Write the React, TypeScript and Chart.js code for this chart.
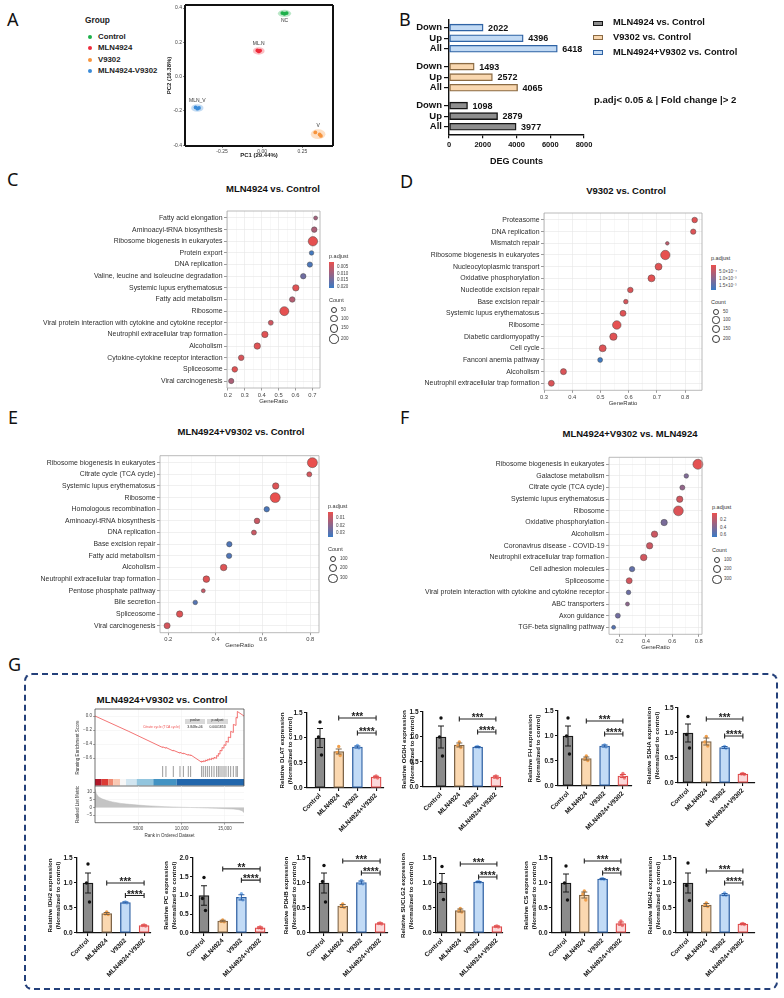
import React, { useEffect, useRef } from 'react';
import { Chart, registerables } from 'chart.js';

Chart.register(...registerables);

const SANS = '"Liberation Sans", Arial, Helvetica, sans-serif';
const HEAD = '"Noto Sans", "Liberation Sans", Arial, sans-serif';
Chart.defaults.font.family = SANS;

// ---------- A: PCA ----------
const pcaGroups = ['Control', 'MLN4924', 'V9302', 'MLN4924-V9302'];
const pcaTags = ['NC', 'ML.N', 'V', 'MLN_V'];
const pcaPc1 = [[0.125, 0.138, 0.152], [-0.03, -0.021, -0.013], [0.33, 0.365, 0.357], [-0.414, -0.403, -0.393]];
const pcaPc2 = [[0.371, 0.367, 0.371], [0.153, 0.147, 0.152], [-0.326, -0.346, -0.338], [-0.18, -0.187, -0.183]];
const pcaColors = ['#1db04a', '#ee2b3b', '#f7943d', '#3a8bd8'];

// ---------- B: DEG counts ----------
const degRows = ['Down', 'Up', 'All'];
const degNames = ['MLN4924+V9302 vs. Control', 'V9302 vs. Control', 'MLN4924 vs. Control'];
const degCombo = [2022, 4396, 6418];
const degV9302 = [1493, 2572, 4065];
const degMln = [1098, 2879, 3977];

// ---------- C ----------
const cTerms = ['Fatty acid elongation', 'Aminoacyl-tRNA biosynthesis', 'Ribosome biogenesis in eukaryotes', 'Protein export', 'DNA replication', 'Valine, leucine and isoleucine degradation', 'Systemic lupus erythematosus', 'Fatty acid metabolism', 'Ribosome', 'Viral protein interaction with cytokine and cytokine receptor', 'Neutrophil extracellular trap formation', 'Alcoholism', 'Cytokine-cytokine receptor interaction', 'Spliceosome', 'Viral carcinogenesis'];
const cRatio = [0.719, 0.711, 0.703, 0.695, 0.685, 0.646, 0.602, 0.581, 0.534, 0.454, 0.419, 0.374, 0.279, 0.241, 0.22];
const cCount = [20, 34, 198, 22, 30, 33, 56, 35, 175, 26, 56, 56, 36, 36, 30];
const cPadj = [0.009, 0.008, 0.0015, 0.02, 0.019, 0.015, 0.002, 0.007, 0.0015, 0.004, 0.002, 0.002, 0.003, 0.002, 0.008];

// ---------- D ----------
const dTerms = ['Proteasome', 'DNA replication', 'Mismatch repair', 'Ribosome biogenesis in eukaryotes', 'Nucleocytoplasmic transport', 'Oxidative phosphorylation', 'Nucleotide excision repair', 'Base excision repair', 'Systemic lupus erythematosus', 'Ribosome', 'Diabetic cardiomyopathy', 'Cell cycle', 'Fanconi anemia pathway', 'Alcoholism', 'Neutrophil extracellular trap formation'];
const dRatio = [0.834, 0.829, 0.737, 0.73, 0.706, 0.681, 0.606, 0.59, 0.58, 0.558, 0.546, 0.508, 0.499, 0.369, 0.326];
const dCount = [46, 40, 18, 250, 98, 100, 45, 25, 58, 190, 118, 98, 31, 60, 58];
const dPadj = [0.0001, 0.00012, 0.00045, 0.00003, 0.00008, 0.00006, 0.00015, 0.0002, 0.0001, 0.00004, 0.00009, 0.00012, 0.0017, 0.00015, 0.00015];

// ---------- E ----------
const eTerms = ['Ribosome biogenesis in eukaryotes', 'Citrate cycle (TCA cycle)', 'Systemic lupus erythematosus', 'Ribosome', 'Homologous recombination', 'Aminoacyl-tRNA biosynthesis', 'DNA replication', 'Base excision repair', 'Fatty acid metabolism', 'Alcoholism', 'Neutrophil extracellular trap formation', 'Pentose phosphate pathway', 'Bile secretion', 'Spliceosome', 'Viral carcinogenesis'];
const eRatio = [0.809, 0.796, 0.654, 0.652, 0.616, 0.575, 0.562, 0.458, 0.457, 0.434, 0.361, 0.348, 0.314, 0.248, 0.195];
const eCount = [360, 49, 91, 355, 57, 63, 49, 57, 57, 100, 100, 40, 43, 91, 80];
const ePadj = [0.002, 0.006, 0.004, 0.002, 0.032, 0.008, 0.008, 0.031, 0.031, 0.004, 0.004, 0.009, 0.03, 0.004, 0.006];

// ---------- F ----------
const fTerms = ['Ribosome biogenesis in eukaryotes', 'Galactose metabolism', 'Citrate cycle (TCA cycle)', 'Systemic lupus erythematosus', 'Ribosome', 'Oxidative phosphorylation', 'Alcoholism', 'Coronavirus disease - COVID-19', 'Neutrophil extracellular trap formation', 'Cell adhesion molecules', 'Spliceosome', 'Viral protein interaction with cytokine and cytokine receptor', 'ABC transporters', 'Axon guidance', 'TGF-beta signaling pathway'];
const fRatio = [0.794, 0.706, 0.676, 0.656, 0.646, 0.538, 0.465, 0.428, 0.383, 0.295, 0.273, 0.268, 0.26, 0.187, 0.155];
const fCount = [361, 43, 49, 91, 340, 91, 91, 91, 100, 57, 76, 43, 40, 49, 40];
const fPadj = [0.03, 0.4, 0.33, 0.1, 0.06, 0.42, 0.12, 0.12, 0.1, 0.5, 0.1, 0.47, 0.35, 0.45, 0.55];

// ---------- G: GSEA ----------
const esRank = [0, 3900, 7810, 7810, 8190, 8190, 9040, 9040, 9810, 9810, 10200, 10200, 10770, 10770, 11040, 11040, 12310, 12310, 12500, 12500, 12740, 12740, 12970, 12970, 13200, 13200, 13470, 13470, 13740, 13740, 14040, 14040, 14240, 14240, 14430, 14430, 14660, 14660, 14890, 14890, 15120, 15120, 15390, 15390, 15660, 15660, 15970, 15970, 16280, 16280, 16430, 16430, 17200];
const esScore = [0, -0.22, -0.45, -0.44, -0.46, -0.45, -0.5, -0.49, -0.53, -0.52, -0.54, -0.53, -0.56, -0.55, -0.565, -0.555, -0.66, -0.645, -0.655, -0.64, -0.65, -0.63, -0.64, -0.62, -0.63, -0.61, -0.625, -0.6, -0.615, -0.59, -0.605, -0.565, -0.575, -0.535, -0.545, -0.49, -0.5, -0.45, -0.46, -0.41, -0.42, -0.36, -0.375, -0.3, -0.31, -0.22, -0.235, -0.12, -0.135, -0.02, -0.03, 0.065, 0];
const hitRanks = [7810, 8190, 9040, 9810, 10200, 10770, 11040, 12310, 12500, 12740, 12970, 13200, 13470, 13740, 14040, 14240, 14430, 14660, 14890, 15120, 15390, 15660, 15970, 16280, 16430];
const bandEdges = [0, 770, 1540, 2110, 2890, 3580, 4810, 6730, 9430, 17200];
const bandColors = ['#b2182b', '#dc3b35', '#ef8a72', '#f9c9b4', '#f7f7f7', '#d1e5f0', '#92c5de', '#4393c3', '#2166ac'];
const metricRank = [0, 150, 400, 800, 1300, 2000, 3000, 4000, 5000, 6000, 7000, 8000, 9000, 10000, 11000, 12000, 13000, 14000, 15000, 16000, 16600, 17000, 17200];
const metricValue = [12, 9, 7, 5.6, 4.6, 3.6, 2.6, 2.0, 1.5, 1.1, 0.8, 0.5, 0.3, 0.1, -0.05, -0.2, -0.4, -0.6, -0.8, -1.1, -1.5, -2.2, -3.5];

// ---------- G: qPCR ----------
const exprGroups = ['Control', 'MLN4924', 'V9302', 'MLN4924+V9302'];
const dlatMean = [1.0, 0.73, 0.82, 0.22];
const dlatSem = [0.19, 0.05, 0.02, 0.015];
const dlatPts = [[1.32, 1.02, 0.66], [0.83, 0.71, 0.65], [0.85, 0.82, 0.8], [0.24, 0.22, 0.2]];
const ogdhMean = [1.0, 0.84, 0.8, 0.2];
const ogdhSem = [0.22, 0.04, 0.01, 0.02];
const ogdhPts = [[1.38, 1.0, 0.62], [0.9, 0.83, 0.79], [0.81, 0.8, 0.79], [0.22, 0.2, 0.18]];
const fhMean = [1.0, 0.55, 0.8, 0.2];
const fhSem = [0.2, 0.03, 0.02, 0.03];
const fhPts = [[1.36, 1.0, 0.64], [0.6, 0.54, 0.51], [0.82, 0.8, 0.78], [0.25, 0.19, 0.16]];
const sdhaMean = [1.0, 0.83, 0.71, 0.18];
const sdhaSem = [0.18, 0.07, 0.02, 0.01];
const sdhaPts = [[1.33, 0.97, 0.7], [0.93, 0.82, 0.74], [0.73, 0.71, 0.69], [0.19, 0.18, 0.17]];
const idh2Mean = [1.0, 0.39, 0.61, 0.15];
const idh2Sem = [0.2, 0.02, 0.01, 0.01];
const idh2Pts = [[1.38, 1.0, 0.62], [0.42, 0.38, 0.37], [0.62, 0.61, 0.6], [0.16, 0.15, 0.14]];
const pcMean = [1.0, 0.32, 0.95, 0.14];
const pcSem = [0.26, 0.02, 0.07, 0.02];
const pcPts = [[1.48, 0.92, 0.6], [0.35, 0.31, 0.3], [1.05, 0.92, 0.88], [0.16, 0.14, 0.12]];
const pdhbMean = [1.0, 0.54, 1.01, 0.19];
const pdhbSem = [0.2, 0.03, 0.03, 0.01];
const pdhbPts = [[1.35, 1.03, 0.62], [0.58, 0.53, 0.51], [1.05, 1.0, 0.98], [0.2, 0.19, 0.18]];
const suclg2Mean = [1.0, 0.45, 1.02, 0.13];
const suclg2Sem = [0.19, 0.03, 0.01, 0.01];
const suclg2Pts = [[1.33, 1.0, 0.67], [0.49, 0.44, 0.42], [1.03, 1.02, 1.01], [0.14, 0.13, 0.12]];
const csMean = [1.0, 0.76, 1.08, 0.19];
const csSem = [0.18, 0.06, 0.01, 0.03];
const csPts = [[1.34, 1.0, 0.66], [0.84, 0.78, 0.66], [1.09, 1.08, 1.07], [0.24, 0.18, 0.15]];
const mdh2Mean = [1.0, 0.56, 0.77, 0.18];
const mdh2Sem = [0.2, 0.03, 0.02, 0.01];
const mdh2Pts = [[1.4, 0.95, 0.65], [0.6, 0.55, 0.53], [0.8, 0.76, 0.75], [0.19, 0.18, 0.17]];
const sigStd = ['***', '****'];
const sigPc = ['**', '****'];

// ---------- helpers ----------
type Box = { l: number; t: number; w: number; h: number };
type Area = { x: number; y: number; w: number; h: number };

function fitTo(box: Box, area: Area) {
  return {
    padding: { left: 0, top: area.y - box.t, right: box.l + box.w - (area.x + area.w), bottom: 0 },
    yFit: (s: any) => { s.width = area.x - box.l; },
    xFit: (s: any) => { s.height = box.t + box.h - (area.y + area.h); },
  };
}

const boxFrame = (color: string, width: number, sides = 'lrtb') => ({
  id: 'boxFrame',
  afterDraw(chart: any) {
    const { ctx, chartArea: a } = chart;
    ctx.save();
    ctx.strokeStyle = color;
    ctx.lineWidth = width;
    ctx.beginPath();
    if (sides.includes('t')) { ctx.moveTo(a.left, a.top); ctx.lineTo(a.right, a.top); }
    if (sides.includes('r')) { ctx.moveTo(a.right, a.top); ctx.lineTo(a.right, a.bottom); }
    if (sides.includes('b')) { ctx.moveTo(a.left, a.bottom); ctx.lineTo(a.right, a.bottom); }
    if (sides.includes('l')) { ctx.moveTo(a.left, a.top); ctx.lineTo(a.left, a.bottom); }
    ctx.stroke();
    ctx.restore();
  },
});

const RED = [233, 80, 78];
const BLUE = [58, 122, 196];
function mix(t: number) {
  const u = Math.max(0, Math.min(1, t));
  const c = RED.map((r, i) => Math.round(r + (BLUE[i] - r) * u));
  return `rgb(${c[0]},${c[1]},${c[2]})`;
}

function sizeOf(count: number[], rMin: number, rMax: number) {
  const lo = Math.min(...count);
  const hi = Math.max(...count);
  return (c: number) => rMin + (rMax - rMin) * Math.sqrt(Math.max(0, c - lo) / (hi - lo));
}

const noUi = { legend: { display: false }, tooltip: { enabled: false } };

function ChartBox({ box, make }: { box: Box; make: () => any }) {
  const ref = useRef<HTMLCanvasElement | null>(null);
  useEffect(() => {
    const chart = new Chart(ref.current as HTMLCanvasElement, make());
    return () => chart.destroy();
  }, []);
  return (
    <div style={{ position: 'absolute', left: box.l, top: box.t, width: box.w, height: box.h }}>
      <canvas ref={ref} width={box.w} height={box.h} />
    </div>
  );
}

function Txt(p: { x: number; y: number; s: number; b?: boolean; a?: 'l' | 'c' | 'r'; c?: string; rot?: number; f?: string; children: React.ReactNode }) {
  const tx = p.a === 'c' ? '-50%' : p.a === 'r' ? '-100%' : '0';
  return (
    <div style={{ position: 'absolute', left: p.x, top: p.y, transform: `translate(${tx}, -50%)${p.rot ? ` rotate(${p.rot}deg)` : ''}`, fontSize: p.s, fontWeight: p.b ? 700 : 400, color: p.c || '#111', fontFamily: p.f || SANS, whiteSpace: 'nowrap', lineHeight: 1 }}>
      {p.children}
    </div>
  );
}

// ---------- A ----------
const pcaHalo = {
  id: 'pcaHalo',
  beforeDatasetsDraw(chart: any) {
    const { ctx, scales: { x, y } } = chart;
    ctx.save();
    pcaPc1.forEach((xs, i) => {
      const px = xs.map((v) => x.getPixelForValue(v));
      const py = pcaPc2[i].map((v) => y.getPixelForValue(v));
      const cx = (Math.min(...px) + Math.max(...px)) / 2;
      const cy = (Math.min(...py) + Math.max(...py)) / 2;
      const rx = (Math.max(...px) - Math.min(...px)) / 2 + 4.5;
      const ry = (Math.max(...py) - Math.min(...py)) / 2 + 3.2;
      ctx.globalAlpha = 0.3;
      ctx.fillStyle = pcaColors[i];
      ctx.beginPath();
      ctx.ellipse(cx, cy, rx, ry, 0, 0, Math.PI * 2);
      ctx.fill();
    });
    ctx.restore();
  },
};

const pcaTagPlugin = {
  id: 'pcaTags',
  afterDatasetsDraw(chart: any) {
    const { ctx, scales: { x, y } } = chart;
    ctx.save();
    ctx.font = `5px ${SANS}`;
    ctx.fillStyle = '#333';
    ctx.textAlign = 'center';
    ctx.textBaseline = 'middle';
    pcaTags.forEach((t, i) => {
      const px = pcaPc1[i].map((v) => x.getPixelForValue(v));
      const py = pcaPc2[i].map((v) => y.getPixelForValue(v));
      const cx = (Math.min(...px) + Math.max(...px)) / 2;
      const ty = i === 0 ? Math.max(...py) + 6.5 : Math.min(...py) - 6.5;
      ctx.fillText(t, cx, ty);
    });
    ctx.restore();
  },
};

function pcaSpec() {
  const box = { l: 165, t: 0, w: 175, h: 160 };
  const area = { x: 185, y: 5, w: 148, h: 141 };
  const f = fitTo(box, area);
  const tickFont = { size: 5, family: SANS };
  const make = () => ({
    type: 'scatter',
    data: {
      datasets: pcaGroups.map((g, i) => ({
        label: g,
        data: pcaPc1[i].map((x, j) => ({ x, y: pcaPc2[i][j] })),
        backgroundColor: pcaColors[i],
        borderWidth: 0,
        pointRadius: 1.9,
      })),
    },
    options: {
      responsive: false, animation: false, events: [],
      layout: { padding: f.padding },
      plugins: noUi,
      scales: {
        x: {
          type: 'linear', min: -0.48, max: 0.44, afterFit: f.xFit,
          afterBuildTicks: (s: any) => { s.ticks = [-0.25, 0, 0.25].map((v) => ({ value: v })); },
          grid: { drawOnChartArea: false, tickLength: 2, tickColor: '#333', lineWidth: 0.6 },
          border: { display: false },
          ticks: { autoSkip: false, maxRotation: 0, padding: 1, color: '#444', font: tickFont, callback: (v: number) => v.toFixed(2) },
          title: { display: true, text: 'PC1 (29.44%)', color: '#222', padding: 1, font: { size: 6, weight: 'bold', family: SANS } },
        },
        y: {
          type: 'linear', min: -0.405, max: 0.418, afterFit: f.yFit,
          afterBuildTicks: (s: any) => { s.ticks = [-0.4, -0.2, 0, 0.2, 0.4].map((v) => ({ value: v })); },
          grid: { drawOnChartArea: false, tickLength: 2, tickColor: '#333', lineWidth: 0.6 },
          border: { display: false },
          ticks: { autoSkip: false, padding: 1, color: '#444', font: tickFont, callback: (v: number) => v.toFixed(1) },
          title: { display: true, text: 'PC2 (16.38%)', color: '#222', padding: 1, font: { size: 6, weight: 'bold', family: SANS } },
        },
      },
    },
    plugins: [pcaHalo, pcaTagPlugin, boxFrame('#111', 2)],
  });
  return { box, make };
}

// ---------- B ----------
const degFills = ['#c2daf4', '#f9d7af', '#8e8e8e'];
const degEdges = ['#2f63a5', '#8b6b44', '#151515'];

const degValueLabels = {
  id: 'degValues',
  afterDatasetsDraw(chart: any) {
    const { ctx } = chart;
    ctx.save();
    ctx.font = `bold 9px ${SANS}`;
    ctx.fillStyle = '#111';
    ctx.textBaseline = 'middle';
    chart.data.datasets.forEach((ds: any, di: number) => {
      chart.getDatasetMeta(di).data.forEach((el: any, j: number) => {
        ctx.fillText(String(ds.data[j].x), el.x + 5, el.y + 0.5);
      });
    });
    ctx.restore();
  },
};

function degSpec() {
  const box = { l: 400, t: 12, w: 200, h: 155 };
  const area = { x: 449, y: 20, w: 135, h: 114.3 };
  const f = fitTo(box, area);
  const starts = [0, 3.7, 7.4];
  const series = [degCombo, degV9302, degMln];
  const positions = starts.flatMap((s) => degRows.map((_, j) => s + j));
  const rowLabels = starts.flatMap(() => degRows);
  const make = () => ({
    type: 'bar',
    data: {
      datasets: series.map((vals, g) => ({
        label: degNames[g],
        data: vals.map((v, j) => ({ x: v, y: starts[g] + j })),
        backgroundColor: degFills[g],
        borderColor: degEdges[g],
        borderWidth: 1.4,
        barThickness: 7,
        borderSkipped: false,
        grouped: false,
      })),
    },
    options: {
      indexAxis: 'y', responsive: false, animation: false, events: [],
      layout: { padding: f.padding },
      plugins: noUi,
      scales: {
        x: {
          type: 'linear', min: 0, max: 8000, afterFit: f.xFit,
          afterBuildTicks: (s: any) => { s.ticks = [0, 2000, 4000, 6000, 8000].map((v) => ({ value: v })); },
          grid: { drawOnChartArea: false, tickLength: 4, tickColor: '#111', lineWidth: 1.2 },
          border: { color: '#111', width: 1.4 },
          ticks: { autoSkip: false, maxRotation: 0, padding: 2, color: '#111', font: { size: 7.5, weight: 'bold', family: SANS }, callback: (v: number) => String(v) },
          title: { display: true, text: 'DEG Counts', color: '#111', padding: 0, font: { size: 9, weight: 'bold', family: SANS } },
        },
        y: {
          type: 'linear', reverse: true, offset: false, min: -0.73, max: 10.12, afterFit: f.yFit,
          afterBuildTicks: (s: any) => { s.ticks = positions.map((v) => ({ value: v })); },
          grid: { drawOnChartArea: false, offset: false, tickLength: 5, tickColor: '#111', lineWidth: 1.2 },
          border: { color: '#111', width: 1.4 },
          ticks: { autoSkip: false, padding: 2, color: '#111', font: { size: 9.5, weight: 'bold', family: SANS }, callback: (_v: number, i: number) => rowLabels[i] },
        },
      },
    },
    plugins: [degValueLabels],
  });
  return { box, make };
}

// ---------- C–F dot plots ----------
type DotSpec = {
  terms: string[]; ratio: number[]; count: number[]; padj: number[];
  xMin: number; xMax: number; major: number[]; minor: number[]; digits: number;
  pLo: number; pHi: number; rMin: number; rMax: number; box: Box; area: Area;
};

function dotSpec(s: DotSpec) {
  const f = fitTo(s.box, s.area);
  const rOf = sizeOf(s.count, s.rMin, s.rMax);
  const isMajor = (v: number) => s.major.some((m) => Math.abs(m - v) < 1e-6);
  const make = () => ({
    type: 'bubble',
    data: {
      datasets: [{
        data: s.terms.map((_, i) => ({ x: s.ratio[i], y: i, r: rOf(s.count[i]) })),
        backgroundColor: s.padj.map((p) => mix((p - s.pLo) / (s.pHi - s.pLo))),
        borderColor: '#4a4a4a',
        borderWidth: 0.5,
        clip: false,
      }],
    },
    options: {
      responsive: false, animation: false, events: [],
      layout: { padding: f.padding },
      plugins: noUi,
      scales: {
        x: {
          type: 'linear', min: s.xMin, max: s.xMax, afterFit: f.xFit,
          afterBuildTicks: (sc: any) => { sc.ticks = [...s.major, ...s.minor].sort((a, b) => a - b).map((v) => ({ value: v })); },
          grid: {
            color: (c: any) => (c.tick && isMajor(c.tick.value) ? '#e6e6e6' : '#f3f3f3'),
            tickColor: (c: any) => (c.tick && isMajor(c.tick.value) ? '#555' : 'rgba(0,0,0,0)'),
            lineWidth: 0.6, tickLength: 2.5,
          },
          border: { display: false },
          ticks: { autoSkip: false, maxRotation: 0, padding: 1, color: '#444', font: { size: 5.8, family: SANS }, callback: (v: number) => (isMajor(v) ? v.toFixed(s.digits) : '') },
          title: { display: true, text: 'GeneRatio', color: '#333', padding: 0, font: { size: 6, family: SANS } },
        },
        y: {
          type: 'linear', reverse: true, min: -0.6, max: s.terms.length - 0.4, afterFit: f.yFit,
          afterBuildTicks: (sc: any) => { sc.ticks = s.terms.map((_, i) => ({ value: i })); },
          grid: { color: '#e6e6e6', lineWidth: 0.6, tickLength: 3, tickColor: '#555' },
          border: { display: false },
          ticks: { autoSkip: false, padding: 1.5, color: '#2e2e2e', font: { size: 6.9, family: SANS }, callback: (_v: number, i: number) => s.terms[i] },
        },
      },
    },
    plugins: [boxFrame('#a8a8a8', 0.8)],
  });
  return { box: s.box, make, rOf };
}

const cDot = dotSpec({
  terms: cTerms, ratio: cRatio, count: cCount, padj: cPadj,
  xMin: 0.195, xMax: 0.745, major: [0.2, 0.3, 0.4, 0.5, 0.6, 0.7], minor: [0.25, 0.35, 0.45, 0.55, 0.65], digits: 1,
  pLo: 0.001, pHi: 0.021, rMin: 2, rMax: 4.7,
  box: { l: 20, t: 205, w: 310, h: 200 }, area: { x: 227, y: 211, w: 93, h: 177 },
});
const dDot = dotSpec({
  terms: dTerms, ratio: dRatio, count: dCount, padj: dPadj,
  xMin: 0.3, xMax: 0.86, major: [0.3, 0.4, 0.5, 0.6, 0.7, 0.8], minor: [0.35, 0.45, 0.55, 0.65, 0.75, 0.85], digits: 1,
  pLo: 0, pHi: 0.00175, rMin: 1.8, rMax: 4.7,
  box: { l: 410, t: 207, w: 300, h: 200 }, area: { x: 544, y: 213, w: 158, h: 177.3 },
});
const eDot = dotSpec({
  terms: eTerms, ratio: eRatio, count: eCount, padj: ePadj,
  xMin: 0.165, xMax: 0.837, major: [0.2, 0.4, 0.6, 0.8], minor: [0.3, 0.5, 0.7], digits: 1,
  pLo: 0.002, pHi: 0.035, rMin: 2, rMax: 5,
  box: { l: 20, t: 450, w: 310, h: 199 }, area: { x: 160, y: 455.7, w: 159, h: 177 },
});
const fDot = dotSpec({
  terms: fTerms, ratio: fRatio, count: fCount, padj: fPadj,
  xMin: 0.12, xMax: 0.825, major: [0.2, 0.4, 0.6, 0.8], minor: [0.3, 0.5, 0.7], digits: 1,
  pLo: 0.013, pHi: 0.65, rMin: 2, rMax: 5,
  box: { l: 402, t: 451, w: 308, h: 200 }, area: { x: 609, y: 457.3, w: 93, h: 177 },
});

function DotLegend(p: { x: number; y: number; barTop: number; barH: number; ticks: { v: number; t: string }[]; pLo: number; pHi: number; countY: number; counts: number[]; rOf: (c: number) => number }) {
  let cy = p.countY + 9;
  const circles: { y: number; r: number; c: number }[] = [];
  p.counts.forEach((c, i) => {
    const r = p.rOf(c);
    if (i > 0) cy += circles[i - 1].r + r + 1.6;
    circles.push({ y: cy, r, c });
  });
  const cx = p.x + 5;
  return (
    <>
      <Txt x={p.x} y={p.y} s={5.5} c="#333">p.adjust</Txt>
      <div style={{ position: 'absolute', left: p.x, top: p.barTop, width: 5, height: p.barH, background: `linear-gradient(to bottom, ${mix(0)}, ${mix(0.5)}, ${mix(1)})` }} />
      {p.ticks.map((t) => (
        <Txt key={t.t} x={p.x + 8} y={p.barTop + ((t.v - p.pLo) / (p.pHi - p.pLo)) * p.barH} s={4.5} c="#444">{t.t}</Txt>
      ))}
      <Txt x={p.x} y={p.countY} s={5.5} c="#333">Count</Txt>
      {circles.map((c) => (
        <React.Fragment key={c.c}>
          <div style={{ position: 'absolute', left: cx - c.r, top: c.y - c.r, width: 2 * c.r, height: 2 * c.r, borderRadius: '50%', border: '0.7px solid #333', boxSizing: 'border-box', background: '#fff' }} />
          <Txt x={cx + 7} y={c.y} s={4.5} c="#444">{String(c.c)}</Txt>
        </React.Fragment>
      ))}
    </>
  );
}

// ---------- G: GSEA ----------
const gseaMarks = {
  id: 'gseaMarks',
  beforeDatasetsDraw(chart: any) {
    const { ctx, chartArea: a, scales: { x } } = chart;
    ctx.save();
    bandEdges.slice(0, -1).forEach((e, i) => {
      const x1 = x.getPixelForValue(e);
      const x2 = x.getPixelForValue(bandEdges[i + 1]);
      ctx.fillStyle = bandColors[i];
      ctx.fillRect(x1, a.bottom - 7, x2 - x1, 6.5);
    });
    ctx.strokeStyle = '#555';
    ctx.lineWidth = 0.6;
    ctx.beginPath();
    hitRanks.forEach((r) => {
      const px = x.getPixelForValue(r);
      ctx.moveTo(px, a.bottom - 20);
      ctx.lineTo(px, a.bottom - 9);
    });
    ctx.stroke();
    ctx.restore();
  },
};

const minusFmt = (v: number, d: number) => (v < 0 ? '\u2212' + Math.abs(v).toFixed(d) : v.toFixed(d));

function gseaTopSpec() {
  const box = { l: 75, t: 700, w: 175, h: 90 };
  const area = { x: 95, y: 709, w: 149, h: 77 };
  const f = fitTo(box, area);
  const make = () => ({
    type: 'line',
    data: { datasets: [{ data: esRank.map((r, i) => ({ x: r, y: esScore[i] })), borderColor: '#f05252', borderWidth: 0.8, pointRadius: 0, tension: 0 }] },
    options: {
      responsive: false, animation: false, events: [],
      layout: { padding: f.padding },
      plugins: noUi,
      scales: {
        x: {
          type: 'linear', min: 0, max: 17200, afterFit: f.xFit,
          afterBuildTicks: (s: any) => { s.ticks = [5000, 10000, 15000].map((v) => ({ value: v })); },
          grid: { color: '#efefef', lineWidth: 0.5, drawTicks: false },
          border: { display: false },
          ticks: { display: false },
        },
        y: {
          type: 'linear', min: -1.0, max: 0.1, afterFit: f.yFit,
          afterBuildTicks: (s: any) => { s.ticks = [0, -0.2, -0.4, -0.6].map((v) => ({ value: v })); },
          grid: { color: '#efefef', lineWidth: 0.5, tickLength: 2, tickColor: '#555' },
          border: { display: false },
          ticks: { autoSkip: false, padding: 1, color: '#444', font: { size: 4.5, family: SANS }, callback: (v: number) => minusFmt(v, 1) },
          title: { display: true, text: 'Running Enrichment Score', color: '#333', padding: 0, font: { size: 4.5, family: SANS } },
        },
      },
    },
    plugins: [gseaMarks, boxFrame('#333', 0.7)],
  });
  return { box, make };
}

function gseaBottomSpec() {
  const box = { l: 75, t: 782, w: 175, h: 56 };
  const area = { x: 95, y: 786, w: 149, h: 36.7 };
  const f = fitTo(box, area);
  const make = () => ({
    type: 'line',
    data: { datasets: [{ data: metricRank.map((r, i) => ({ x: r, y: metricValue[i] })), borderColor: '#bdbdbd', backgroundColor: '#c4c4c4', borderWidth: 0.5, pointRadius: 0, fill: 'origin', tension: 0 }] },
    options: {
      responsive: false, animation: false, events: [],
      layout: { padding: f.padding },
      plugins: noUi,
      scales: {
        x: {
          type: 'linear', min: 0, max: 17200, afterFit: f.xFit,
          afterBuildTicks: (s: any) => { s.ticks = [5000, 10000, 15000].map((v) => ({ value: v })); },
          grid: { color: '#efefef', lineWidth: 0.5, tickLength: 2, tickColor: '#555' },
          border: { display: false },
          ticks: { autoSkip: false, maxRotation: 0, padding: 1, color: '#444', font: { size: 4.5, family: SANS }, callback: (v: number) => (v >= 10000 ? v.toLocaleString('en-US') : String(v)) },
          title: { display: true, text: 'Rank in Ordered Dataset', color: '#333', padding: 0, font: { size: 4.5, family: SANS } },
        },
        y: {
          type: 'linear', min: -10, max: 14, afterFit: f.yFit,
          afterBuildTicks: (s: any) => { s.ticks = [10, 5, 0, -5].map((v) => ({ value: v })); },
          grid: { color: '#efefef', lineWidth: 0.5, tickLength: 2, tickColor: '#555' },
          border: { display: false },
          ticks: { autoSkip: false, padding: 1, color: '#444', font: { size: 4.5, family: SANS }, callback: (v: number) => minusFmt(v, 0) },
          title: { display: true, text: 'Ranked List Metric', color: '#333', padding: 0, font: { size: 4.5, family: SANS } },
        },
      },
    },
    plugins: [boxFrame('#333', 0.7, 'lb')],
  });
  return { box, make };
}

// ---------- G: qPCR bars ----------
const barFill = ['#8b8b8b', '#fbd8b0', '#c2dbf6', '#fbd9da'];
const barEdge = ['#1a1a1a', '#7d6448', '#2d5fa3', '#dd4b4b'];
const dotFill = ['#111111', '#f2a04c', '#80b2ea', '#ef7c7c'];
const jitter = [0, -0.08, 0.08];

type ExprSpec = {
  gene: string; mean: number[]; sem: number[]; pts: number[][]; sig: string[];
  yMax: number; x0: number; lead: number; gap: number; tail: number; top: number; base: number; titleX: number; sigY: number[];
};

function exprSpec(s: ExprSpec) {
  const area = { x: s.x0, y: s.top, w: s.lead + 3 * s.gap + s.tail, h: s.base - s.top };
  const l = Math.round(s.titleX - 3.7);
  const box = { l, t: Math.round(s.top - 16), w: Math.round(area.x + area.w + 8 - l), h: Math.round(s.base - s.top + 16 + 52) };
  const f = fitTo(box, area);
  const yTicks: number[] = [];
  for (let v = 0; v <= s.yMax + 1e-9; v += 0.5) yTicks.push(v);
  const deco = {
    id: 'exprDeco',
    afterDatasetsDraw(chart: any) {
      const { ctx, scales: { x, y } } = chart;
      ctx.save();
      ctx.lineWidth = 1;
      s.mean.forEach((m, i) => {
        const px = x.getPixelForValue(i + 1);
        const y1 = y.getPixelForValue(m - s.sem[i]);
        const y2 = y.getPixelForValue(m + s.sem[i]);
        ctx.strokeStyle = barEdge[i];
        ctx.beginPath();
        ctx.moveTo(px, y1); ctx.lineTo(px, y2);
        ctx.moveTo(px - 3, y2); ctx.lineTo(px + 3, y2);
        ctx.moveTo(px - 3, y1); ctx.lineTo(px + 3, y1);
        ctx.stroke();
      });
      ctx.strokeStyle = '#222';
      ctx.fillStyle = '#222';
      ctx.lineWidth = 1.1;
      ctx.font = `bold 10px ${SANS}`;
      ctx.textAlign = 'center';
      ctx.textBaseline = 'alphabetic';
      [[2, 4], [3, 4]].forEach(([a, b], k) => {
        const x1 = x.getPixelForValue(a);
        const x2 = x.getPixelForValue(b);
        const yy = y.getPixelForValue(s.sigY[k]);
        ctx.beginPath();
        ctx.moveTo(x1, yy - 2.5); ctx.lineTo(x1, yy + 2.5);
        ctx.moveTo(x1, yy); ctx.lineTo(x2, yy);
        ctx.moveTo(x2, yy - 2.5); ctx.lineTo(x2, yy + 2.5);
        ctx.stroke();
        ctx.fillText(s.sig[k], (x1 + x2) / 2, yy + 2.2);
      });
      ctx.restore();
    },
  };
  const make = () => ({
    type: 'bar',
    data: {
      datasets: [
        {
          type: 'bar',
          data: s.mean.map((m, i) => ({ x: i + 1, y: m })),
          backgroundColor: barFill, borderColor: barEdge, borderWidth: 1.3,
          barThickness: 10, borderSkipped: false, order: 2,
        },
        {
          type: 'scatter',
          data: s.pts.flatMap((row, i) => row.map((v, j) => ({ x: i + 1 + jitter[j], y: v }))),
          backgroundColor: s.pts.flatMap((row, i) => row.map(() => dotFill[i])),
          pointRadius: 1.7, borderWidth: 0, order: 1,
        },
      ],
    },
    options: {
      responsive: false, animation: false, events: [],
      layout: { padding: f.padding },
      plugins: noUi,
      scales: {
        x: {
          type: 'linear', offset: false, min: 1 - s.lead / s.gap, max: 4 + s.tail / s.gap, afterFit: f.xFit,
          afterBuildTicks: (sc: any) => { sc.ticks = [1, 2, 3, 4].map((v) => ({ value: v })); },
          grid: { drawOnChartArea: false, offset: false, tickLength: 3, tickColor: '#111', lineWidth: 1.1 },
          border: { color: '#111', width: 1.3 },
          ticks: { autoSkip: false, minRotation: 45, maxRotation: 45, padding: 1, color: '#111', font: { size: 6.5, weight: 'bold', family: SANS }, callback: (v: number) => exprGroups[v - 1] },
        },
        y: {
          type: 'linear', min: 0, max: s.yMax, afterFit: f.yFit,
          afterBuildTicks: (sc: any) => { sc.ticks = yTicks.map((v) => ({ value: v })); },
          grid: { drawOnChartArea: false, tickLength: 3, tickColor: '#111', lineWidth: 1.1 },
          border: { color: '#111', width: 1.3 },
          ticks: { autoSkip: false, padding: 1.5, color: '#111', font: { size: 6.5, weight: 'bold', family: SANS }, callback: (v: number) => v.toFixed(1) },
          title: { display: true, text: [`Relative ${s.gene} expression`, '(Normalized to control)'], color: '#111', padding: 0, font: { size: 6.2, weight: 'bold', family: SANS, lineHeight: 1.2 } },
        },
      },
    },
    plugins: [deco],
  });
  return { box, make };
}

const exprPanels = [
  exprSpec({ gene: 'DLAT', mean: dlatMean, sem: dlatSem, pts: dlatPts, sig: sigStd, yMax: 1.5, x0: 307, lead: 13, gap: 18.7, tail: 7, top: 713, base: 788, titleX: 283, sigY: [1.4, 1.1] }),
  exprSpec({ gene: 'OGDH', mean: ogdhMean, sem: ogdhSem, pts: ogdhPts, sig: sigStd, yMax: 1.5, x0: 423, lead: 18, gap: 18.3, tail: 7, top: 712, base: 787, titleX: 405, sigY: [1.36, 1.1] }),
  exprSpec({ gene: 'FH', mean: fhMean, sem: fhSem, pts: fhPts, sig: sigStd, yMax: 1.5, x0: 558, lead: 10, gap: 18.3, tail: 9, top: 711, base: 786, titleX: 531, sigY: [1.3, 1.04] }),
  exprSpec({ gene: 'SDHA', mean: sdhaMean, sem: sdhaSem, pts: sdhaPts, sig: sigStd, yMax: 1.5, x0: 678, lead: 10, gap: 18.3, tail: 12, top: 708, base: 783, titleX: 650, sigY: [1.28, 0.94] }),
  exprSpec({ gene: 'IDH2', mean: idh2Mean, sem: idh2Sem, pts: idh2Pts, sig: sigStd, yMax: 1.5, x0: 77, lead: 11, gap: 18.7, tail: 6, top: 858, base: 933, titleX: 51, sigY: [1.0, 0.75] }),
  exprSpec({ gene: 'PC', mean: pcMean, sem: pcSem, pts: pcPts, sig: sigPc, yMax: 2.0, x0: 193, lead: 11, gap: 18.7, tail: 7, top: 858, base: 933, titleX: 167, sigY: [1.71, 1.41] }),
  exprSpec({ gene: 'PDHB', mean: pdhbMean, sem: pdhbSem, pts: pdhbPts, sig: sigStd, yMax: 1.5, x0: 310, lead: 14, gap: 18.7, tail: 7, top: 858, base: 933, titleX: 287, sigY: [1.44, 1.2] }),
  exprSpec({ gene: 'SUCLG2', mean: suclg2Mean, sem: suclg2Sem, pts: suclg2Pts, sig: sigStd, yMax: 1.5, x0: 436, lead: 6, gap: 18.3, tail: 6, top: 858, base: 933, titleX: 404, sigY: [1.38, 1.12] }),
  exprSpec({ gene: 'CS', mean: csMean, sem: csSem, pts: csPts, sig: sigStd, yMax: 1.5, x0: 552, lead: 14, gap: 18.3, tail: 9, top: 858, base: 933, titleX: 527, sigY: [1.44, 1.2] }),
  exprSpec({ gene: 'MDH2', mean: mdh2Mean, sem: mdh2Sem, pts: mdh2Pts, sig: sigStd, yMax: 1.5, x0: 676, lead: 12, gap: 18.3, tail: 12, top: 858, base: 933, titleX: 651, sigY: [1.24, 1.0] }),
];

const pca = pcaSpec();
const deg = degSpec();
const gTop = gseaTopSpec();
const gBottom = gseaBottomSpec();

const legendOrder = [2, 1, 0];

export default function App() {
  return (
    <div style={{ position: 'absolute', left: 0, top: 0, width: 784, height: 998, background: '#fff', overflow: 'hidden', fontFamily: SANS }}>
      {/* panel letters */}
      <Txt x={7} y={18.5} s={18} f={HEAD}>A</Txt>
      <Txt x={399} y={18.5} s={18} f={HEAD}>B</Txt>
      <Txt x={7} y={179} s={18} f={HEAD}>C</Txt>
      <Txt x={400} y={181} s={18} f={HEAD}>D</Txt>
      <Txt x={8} y={417} s={18} f={HEAD}>E</Txt>
      <Txt x={400} y={417} s={18} f={HEAD}>F</Txt>
      <Txt x={8} y={664} s={18} f={HEAD}>G</Txt>

      {/* A */}
      <Txt x={85} y={20} s={8.3} b c="#222">Group</Txt>
      {pcaGroups.map((g, i) => (
        <React.Fragment key={g}>
          <div style={{ position: 'absolute', left: 88, top: [37.3, 48.3, 59.8, 71][i] - 2, width: 4, height: 4, borderRadius: '50%', background: pcaColors[i] }} />
          <Txt x={98} y={[37.3, 48.3, 59.8, 71][i]} s={7.8} b c="#222">{g}</Txt>
        </React.Fragment>
      ))}
      <ChartBox box={pca.box} make={pca.make} />

      {/* B */}
      <ChartBox box={deg.box} make={deg.make} />
      {legendOrder.map((g, k) => (
        <React.Fragment key={g}>
          <div style={{ position: 'absolute', left: 593, top: [23.3, 37.7, 52.7][k] - 2.8, width: 10, height: 5.6, boxSizing: 'border-box', background: degFills[g], border: `1.4px solid ${degEdges[g]}` }} />
          <Txt x={613} y={[23.3, 37.7, 52.7][k]} s={9.3} b>{degNames[g]}</Txt>
        </React.Fragment>
      ))}
      <Txt x={594} y={100} s={9.6} b>p.adj&lt; 0.05 &amp; | Fold change |&gt; 2</Txt>

      {/* C */}
      <Txt x={273} y={189} s={9.5} b a="c">MLN4924 vs. Control</Txt>
      <ChartBox box={cDot.box} make={cDot.make} />
      <DotLegend x={329} y={257} barTop={262} barH={26} pLo={0.001} pHi={0.021}
        ticks={[{ v: 0.005, t: '0.005' }, { v: 0.01, t: '0.010' }, { v: 0.015, t: '0.015' }, { v: 0.02, t: '0.020' }]}
        countY={301} counts={[50, 100, 150, 200]} rOf={cDot.rOf} />

      {/* D */}
      <Txt x={626} y={191} s={9.5} b a="c">V9302 vs. Control</Txt>
      <ChartBox box={dDot.box} make={dDot.make} />
      <DotLegend x={711} y={259} barTop={265} barH={25} pLo={0} pHi={0.00175}
        ticks={[{ v: 0.0005, t: '5.0×10⁻⁴' }, { v: 0.001, t: '1.0×10⁻³' }, { v: 0.0015, t: '1.5×10⁻³' }]}
        countY={303} counts={[50, 100, 150, 200]} rOf={dDot.rOf} />

      {/* E */}
      <Txt x={241} y={432} s={9.5} b a="c">MLN4924+V9302 vs. Control</Txt>
      <ChartBox box={eDot.box} make={eDot.make} />
      <DotLegend x={328} y={507} barTop={512} barH={25} pLo={0.002} pHi={0.035}
        ticks={[{ v: 0.01, t: '0.01' }, { v: 0.02, t: '0.02' }, { v: 0.03, t: '0.03' }]}
        countY={550} counts={[100, 200, 300]} rOf={eDot.rOf} />

      {/* F */}
      <Txt x={630} y={434} s={9.5} b a="c">MLN4924+V9302 vs. MLN4924</Txt>
      <ChartBox box={fDot.box} make={fDot.make} />
      <DotLegend x={712} y={508} barTop={513} barH={24} pLo={0.013} pHi={0.65}
        ticks={[{ v: 0.2, t: '0.2' }, { v: 0.4, t: '0.4' }, { v: 0.6, t: '0.6' }]}
        countY={551} counts={[100, 200, 300]} rOf={fDot.rOf} />

      {/* G */}
      <div style={{ position: 'absolute', left: 24, top: 673, width: 754, height: 317, boxSizing: 'border-box', border: '2px dashed #24407a', borderRadius: 8 }} />
      <Txt x={162} y={700} s={9.8} b a="c">MLN4924+V9302 vs. Control</Txt>
      <ChartBox box={gTop.box} make={gTop.make} />
      <ChartBox box={gBottom.box} make={gBottom.make} />
      <div style={{ position: 'absolute', left: 185, top: 718.5, width: 20, height: 5, background: '#d9d9d9' }} />
      <div style={{ position: 'absolute', left: 207, top: 718.5, width: 21, height: 5, background: '#d9d9d9' }} />
      <Txt x={195} y={721} s={3.4} a="c" c="#222">pvalue</Txt>
      <Txt x={217.5} y={721} s={3.4} a="c" c="#222">p.adjust</Txt>
      <Txt x={180} y={728} s={3.4} a="r" c="#f05252">Citrate cycle (TCA cycle)</Txt>
      <Txt x={195} y={728} s={3.4} a="c" c="#222">3.848e-06</Txt>
      <Txt x={217.5} y={728} s={3.4} a="c" c="#222">0.0001853</Txt>

      {exprPanels.map((p, i) => (
        <ChartBox key={i} box={p.box} make={p.make} />
      ))}
    </div>
  );
}
